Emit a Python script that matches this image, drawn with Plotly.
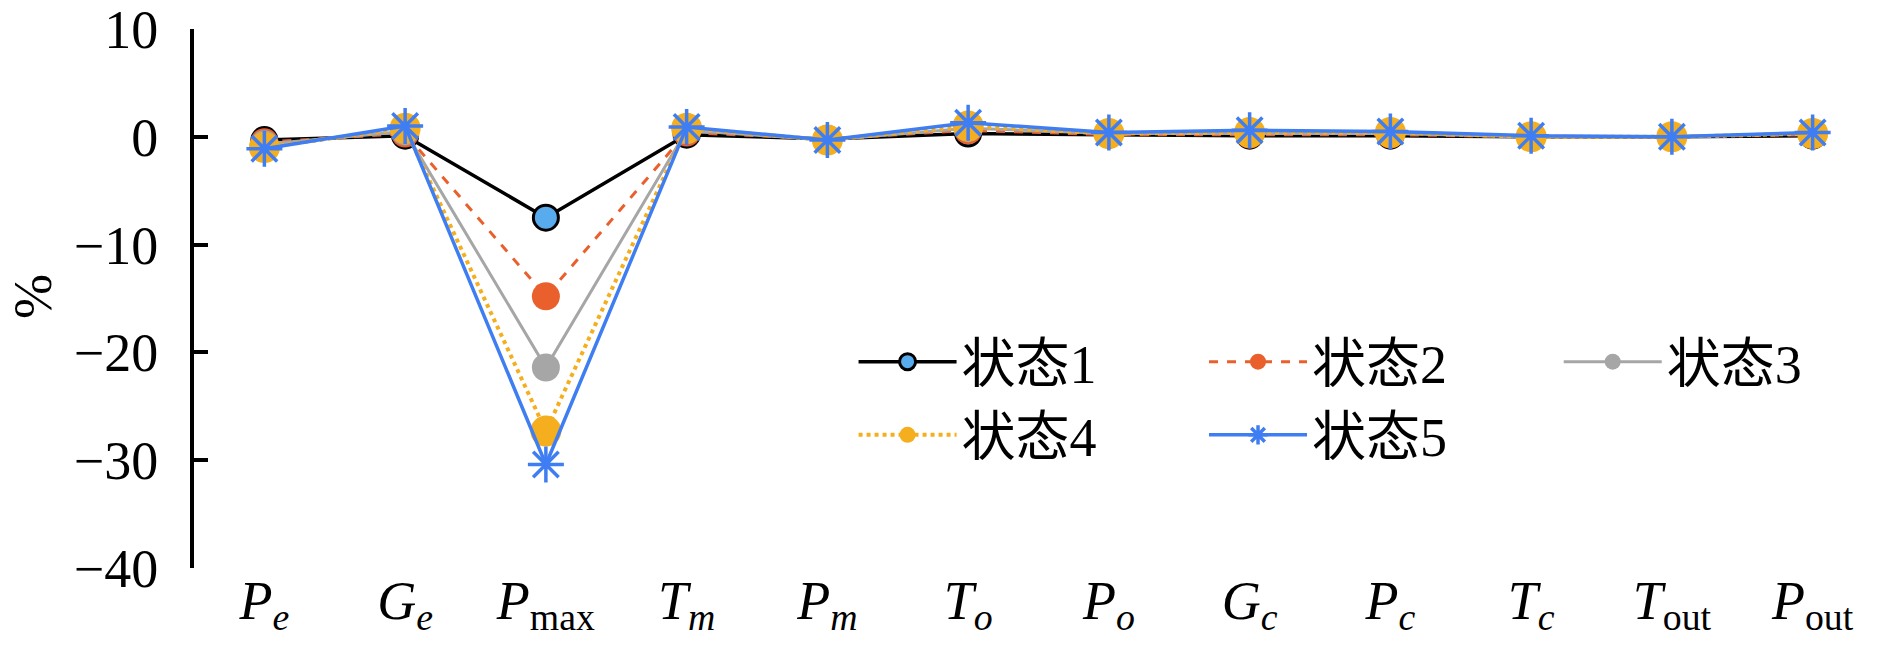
import plotly.graph_objects as go

# 横轴参数
categories = ['<i>P</i><sub><i>e</i></sub>', '<i>G</i><sub><i>e</i></sub>', '<i>P</i><sub>max</sub>',
              '<i>T</i><sub><i>m</i></sub>', '<i>P</i><sub><i>m</i></sub>', '<i>T</i><sub><i>o</i></sub>',
              '<i>P</i><sub><i>o</i></sub>', '<i>G</i><sub><i>c</i></sub>', '<i>P</i><sub><i>c</i></sub>',
              '<i>T</i><sub><i>c</i></sub>', '<i>T</i><sub>out</sub>', '<i>P</i><sub>out</sub>']

# 各状态下的变化量（%）
state1 = [-0.3, 0.1, -7.5, 0.2, -0.2, 0.3, 0.2, 0.1, 0.1, 0.0, 0.0, 0.1]
state2 = [-0.5, 0.3, -14.8, 0.4, -0.2, 0.6, 0.2, 0.2, 0.2, 0.0, 0.0, 0.2]
state3 = [-0.7, 0.5, -21.4, 0.6, -0.3, 0.8, 0.3, 0.3, 0.3, 0.0, 0.0, 0.3]
state4 = [-1.0, 0.8, -27.3, 0.8, -0.3, 1.0, 0.3, 0.4, 0.4, 0.0, 0.0, 0.3]
state5 = [-1.1, 1.0, -30.4, 0.9, -0.3, 1.3, 0.4, 0.6, 0.5, 0.1, 0.0, 0.4]

FONT = "'Liberation Serif', 'Times New Roman', 'Noto Sans CJK SC', serif"
FS = 54
x = list(range(len(categories)))

fig = go.Figure()

fig.add_trace(go.Scatter(
    x=x, y=state1, name='状态1', mode='lines+markers', legend='legend',
    line=dict(color='black', width=3.5),
    marker=dict(symbol='circle', size=25, color='#58ACEE', line=dict(color='black', width=3))))
fig.add_trace(go.Scatter(
    x=x, y=state2, name='状态2', mode='lines+markers', legend='legend2',
    line=dict(color='#E9602D', width=3, dash='dash'),
    marker=dict(symbol='circle', size=28, color='#E9602D')))
fig.add_trace(go.Scatter(
    x=x, y=state3, name='状态3', mode='lines+markers', legend='legend3',
    line=dict(color='#A6A6A6', width=3),
    marker=dict(symbol='circle', size=28, color='#A6A6A6')))
fig.add_trace(go.Scatter(
    x=x, y=state4, name='状态4', mode='lines+markers', legend='legend',
    line=dict(color='#F5AE1E', width=4, dash='dot'),
    marker=dict(symbol='circle', size=31, color='#F5AE1E')))
fig.add_trace(go.Scatter(
    x=x, y=state5, name='状态5', mode='lines+markers', legend='legend2',
    line=dict(color='#3F7EF2', width=3.5),
    marker=dict(symbol='asterisk-open', size=30, line=dict(color='#3F7EF2', width=3.5))))

leg = dict(font=dict(family=FONT, size=FS, color='black'), bgcolor='rgba(0,0,0,0)',
           itemwidth=98, tracegroupgap=0, yanchor='top', y=0.46, xanchor='left')

fig.update_layout(
    width=1890, height=645,
    margin=dict(l=194, r=7, t=29, b=77, autoexpand=False),
    paper_bgcolor='white', plot_bgcolor='white',
    font=dict(family=FONT, size=FS, color='black'),
    showlegend=True,
    legend=dict(leg, x=0.3905),
    legend2=dict(leg, x=0.598),
    legend3=dict(leg, x=0.808),
    xaxis=dict(range=[-0.5, len(categories) - 0.5], tickvals=x, ticktext=categories,
               showline=False, showgrid=False, zeroline=False, ticks='', automargin=False,
               ticklabelstandoff=-4, ticklabeloverflow='allow',
               tickfont=dict(family=FONT, size=FS)),
    xaxis2=dict(overlaying='x', anchor='free', position=0.8, side='top',
                range=[-0.5, len(categories) - 0.5], automargin=False,
                tickvals=[i + 0.5 for i in x], ticks='outside', ticklen=13, tickwidth=4,
                tickcolor='black', showticklabels=False, showline=True, linecolor='black',
                linewidth=4, showgrid=False, zeroline=False),
    yaxis=dict(range=[-40, 10], tickvals=[-40, -30, -20, -10, 0, 10], ticks='inside',
               ticklen=14, tickwidth=4, tickcolor='black', showline=True, linecolor='black',
               linewidth=4, showgrid=False, zeroline=False, ticklabelstandoff=21,
               automargin=False, ticklabeloverflow='allow',
               tickfont=dict(family=FONT, size=FS)),
)

# 纵轴标题
fig.add_annotation(text='%', textangle=-90, xref='paper', yref='paper', x=-0.0953, y=0.503,
                   xanchor='center', yanchor='middle', showarrow=False, borderpad=0,
                   font=dict(family=FONT, size=FS, color='black'))

# 去掉页面默认的 body 边距
fig.write_html("out.html", config={'displayModeBar': False},
               post_script="document.body.style.margin='0';")
